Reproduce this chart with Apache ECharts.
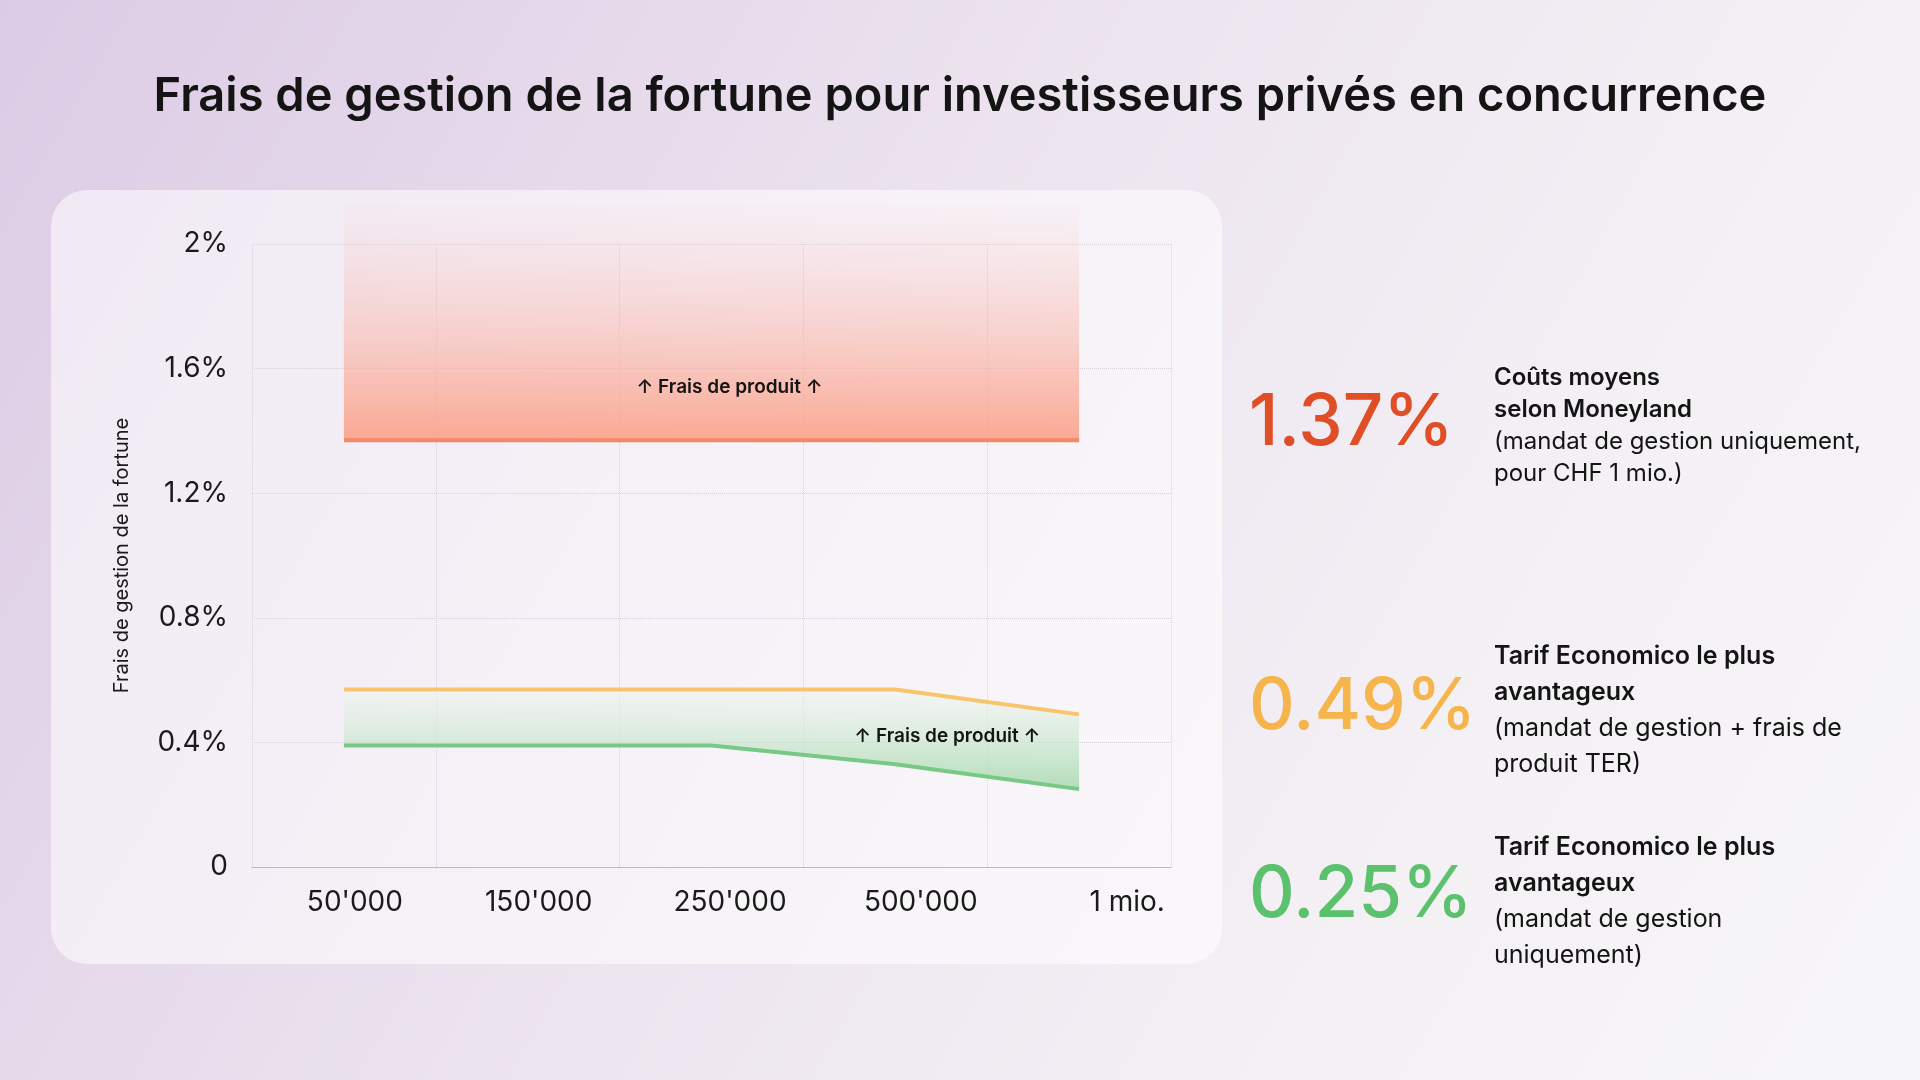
<!DOCTYPE html>
<html><head><meta charset="utf-8">
<script src="https://cdn.jsdelivr.net/npm/echarts@6/dist/echarts.min.js"></script>
<style>
html,body{margin:0;padding:0;width:1920px;height:1080px;overflow:hidden;
background:linear-gradient(120deg,#dccbe5 0%,#ebe2ee 40%,#f4f1f5 75%,#f7f6f8 100%);}
#c{width:1920px;height:1080px;}
</style></head><body><div id="c"></div>
<script>
const categories = ["50'000","150'000","250'000","500'000","1 mio."];
const greenValues = [0.39,0.39,0.39,0.33,0.25];
const yellowValues = [0.57,0.57,0.57,0.57,0.49];
const redValues = [1.37,1.37,1.37,1.37,1.37];
const redTop = 2.13;
const yTicks = [0,0.4,0.8,1.2,1.6,2];

const F = 'Inter, Lato, "Noto Sans", sans-serif';
const chart = echarts.init(document.getElementById('c'));
const diffYellow = yellowValues.map((v,i)=>+(v-greenValues[i]).toFixed(3));
const diffRed = redValues.map(v=>+(redTop-v).toFixed(3));
const plotTop = 244, plotH = 623;
const redGridTop = plotTop - plotH*(redTop-2)/2;
const labelPad = [22,22,37,51,96];
const rich = {};
labelPad.forEach((p,i)=>{rich['p'+i]={padding:[0,0,0,p],fontFamily:F,fontSize:28,color:'#1a1a1a'};});

chart.setOption({
  backgroundColor:'transparent',
  title:{text:'Frais de gestion de la fortune pour investisseurs privés en concurrence',
    left:'center',top:68,textStyle:{fontFamily:F,fontSize:47,fontWeight:600,color:'#141414'}},
  graphic:[
    {type:'rect',z:-10,shape:{x:51,y:190,width:1171,height:774,r:36},style:{fill:'rgba(255,255,255,0.55)'}},
    {type:'text',left:1249,top:388,style:{text:'1.37%',font:'500 71px '+F,fill:'#e04e26'}},
    {type:'text',left:1249,top:672,style:{text:'0.49%',font:'500 71px '+F,fill:'#f6b44c'}},
    {type:'text',left:1249,top:860,style:{text:'0.25%',font:'500 71px '+F,fill:'#5cc16d'}},
    {type:'text',left:1494,top:362,style:{text:'Coûts moyens\nselon Moneyland',font:'600 24px '+F,fill:'#141414',lineHeight:32}},
    {type:'text',left:1494,top:426,style:{text:'(mandat de gestion uniquement,\npour CHF 1 mio.)',font:'400 24px '+F,fill:'#141414',lineHeight:32}},
    {type:'text',left:1494,top:638,style:{text:'Tarif Economico le plus\navantageux',font:'600 25px '+F,fill:'#141414',lineHeight:36}},
    {type:'text',left:1494,top:710,style:{text:'(mandat de gestion + frais de\nproduit TER)',font:'400 25px '+F,fill:'#141414',lineHeight:36}},
    {type:'text',left:1494,top:829,style:{text:'Tarif Economico le plus\navantageux',font:'600 25px '+F,fill:'#141414',lineHeight:36}},
    {type:'text',left:1494,top:901,style:{text:'(mandat de gestion\nuniquement)',font:'400 25px '+F,fill:'#141414',lineHeight:36}}
  ],
  grid:[
    {left:252,top:plotTop,width:919,height:plotH},
    {left:252,top:redGridTop,width:919,height:plotTop+plotH-redGridTop}
  ],
  xAxis:[
    {type:'category',data:categories,boundaryGap:true,gridIndex:0,
    axisLine:{lineStyle:{color:'#bbb',width:1}},axisTick:{show:false},
    splitLine:{show:true,lineStyle:{color:'#d6d0da',type:'dotted'}},
    axisLabel:{margin:22,rich:rich,formatter:(v,i)=>'{p'+i+'|'+v+'}'}},
    {type:'category',data:categories,boundaryGap:true,gridIndex:1,show:false}
  ],
  yAxis:[
    {type:'value',min:0,max:2,interval:0.4,gridIndex:0,
    name:'Frais de gestion de la fortune',nameLocation:'middle',nameGap:120,nameRotate:90,
    nameTextStyle:{fontFamily:F,fontSize:20,color:'#1a1a1a'},
    axisLine:{show:false},axisTick:{show:false},
    splitLine:{lineStyle:{color:'#d6d0da',type:'dotted'}},
    axisLabel:{fontFamily:F,fontSize:28,color:'#1a1a1a',margin:24,
      formatter:v=>{const t=yTicks.find(x=>Math.abs(x-v)<1e-6);return t===0?'0':(+v.toFixed(1))+'%';}}},
    {type:'value',min:0,max:redTop,gridIndex:1,show:false,splitLine:{show:false}}
  ],
  series:[
    {type:'line',stack:'r',data:redValues,symbol:'none',xAxisIndex:1,yAxisIndex:1,
     lineStyle:{color:'#f4876a',width:4}},
    {type:'line',stack:'r',data:diffRed,symbol:'none',xAxisIndex:1,yAxisIndex:1,
     lineStyle:{width:0,opacity:0},
     areaStyle:{opacity:1,color:new echarts.graphic.LinearGradient(0,0,0,1,[
       {offset:0,color:'rgba(248,200,200,0.05)'},{offset:1,color:'rgba(250,160,135,0.9)'}])},
     markPoint:{symbol:'circle',symbolSize:0,data:[{coord:[categories[2],1.54],value:0}],
       label:{show:true,formatter:'↑ Frais de produit ↑',offset:[18,0],fontFamily:F,fontSize:19,fontWeight:600,color:'#141414'}}},
    {type:'line',stack:'g',data:greenValues,symbol:'none',
     lineStyle:{color:'#78c985',width:4}},
    {type:'line',stack:'g',data:diffYellow,symbol:'none',
     lineStyle:{color:'#f8c46c',width:4},
     areaStyle:{opacity:1,color:new echarts.graphic.LinearGradient(0,0,0,1,[
       {offset:0,color:'rgba(240,245,240,0.5)'},{offset:1,color:'rgba(160,215,168,0.8)'}])},
     markPoint:{symbol:'circle',symbolSize:0,data:[{coord:[categories[3],0.42],value:0}],
       label:{show:true,formatter:'↑ Frais de produit ↑',offset:[52,0],fontFamily:F,fontSize:19,fontWeight:600,color:'#141414'}}}
  ]
});
</script></body></html>
